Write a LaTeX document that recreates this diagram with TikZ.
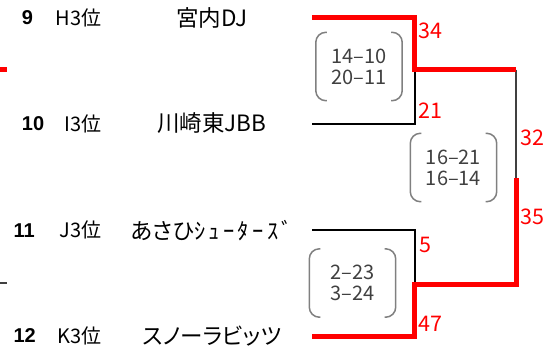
\documentclass[tikz,border=0pt]{standalone}
\usepackage{fontspec}
\setmainfont{Noto Sans CJK JP}
\newfontfamily\seedfont{Liberation Sans}
\newfontfamily\teamfont{Noto Sans CJK JP}[RawFeature=+palt]
\newfontfamily\hwkana{Noto Sans CJK JP}[LetterSpace=15]
\usepackage{tikz}
\usetikzlibrary{calc}
\definecolor{scoregray}{HTML}{404040}
\definecolor{brackgray}{HTML}{808080}
\definecolor{pathgray}{HTML}{404040}
\tikzset{
seed/.style={anchor=west, inner sep=0, font=\seedfont\bfseries\fontsize{20}{24}\selectfont}, rank/.style={anchor=east, inner sep=0, font=\fontsize{20}{24}\selectfont}, team/.style={inner sep=0, font=\teamfont\fontsize{22.5}{24}\selectfont},
win/.style={draw=red, line width=5pt}, lose/.style={draw=black, line width=2pt}, final/.style={draw=pathgray, line width=2pt},
pts/.style={anchor=west, inner sep=0, text=red, font=\fontsize{21.5}{24}\selectfont},
score/.style={minimum width=86pt, minimum height=68pt, inner sep=0, align=center, text=scoregray, font=\fontsize{20}{21}\selectfont}, brk/.style={draw=brackgray, line width=1.5pt, rounded corners=10pt}}

\begin{document}
\begin{tikzpicture}[x=1pt, y=-1pt]
\useasboundingbox (0,0) rectangle (560,351);
\foreach \num/\rk/\name/\y/\sx [count=\i] in {9/H3位/宮内DJ/17.5/21.7, 10/I3位/川崎東JBB/123.5/21.7, 11/J3位/{あさひ{\hwkana ｼｭｰﾀｰｽﾞ}}/230.3/13.3, 12/K3位/スノーラビッツ/336/13.3}{
      \node [seed] (seed-\i) at (\sx, \y) {\num};
      \node [rank] (rank-\i) at (101.7, \y) {\rk};
      \node [team] (team-\i) at (212, \y) {\name};
      \coordinate (end-\i) at (312, \y);
}
% junctions
\coordinate (m1) at (414.5, 69.7);
\coordinate (m2) at (414.5, 284);
\coordinate (f) at (516, 178);
\coordinate (prev-a) at (0, 69.7);
\coordinate (prev-b) at (0, 283);
\draw [lose] (end-2) -| (m1);
\draw [lose] (end-3) -| (m2);
\draw [final] (m1 -| f) -- (f);
\draw [win] (end-1) -| (m1) -- (m1 -| f);
\draw [win] (end-4) -| (m2) -| (f);
\draw [win] (prev-a) -- ++(6.7, 0);
\draw [final] (prev-b) -- ++(7, 0);
% points
\node [pts] (p-1) at (418, 31) {34};
\node [pts] (p-2) at (418, 111) {21};
\node [pts] (p-3) at (419, 244.7) {5};
\node [pts] (p-4) at (418, 324) {47};
\node [pts] (p-5) at (520, 138) {32};
\node [pts] (p-6) at (520, 217) {35};
% set scores
\node [score] (sc-1) at (359, 66.5) {14–10\\20–11};
\node [score] (sc-2) at (453.5, 167.5) {16–21\\16–14};
\node [score] (sc-3) at (352.5, 283) {2–23\\3–24};
\foreach \s in {sc-1, sc-2, sc-3}{
      \draw [brk] ([xshift=11pt]\s.north west) -- (\s.north west) -- (\s.south west) -- ([xshift=11pt]\s.south west);
      \draw [brk] ([xshift=-11pt]\s.north east) -- (\s.north east) -- (\s.south east) -- ([xshift=-11pt]\s.south east);
}
\end{tikzpicture}
\end{document}
